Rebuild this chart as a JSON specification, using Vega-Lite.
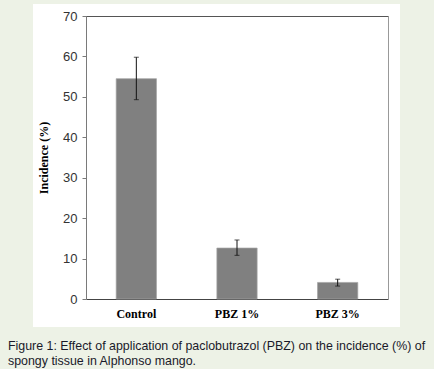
{
  "$schema": "https://vega.github.io/schema/vega-lite/v6.json",
  "width": 367,
  "height": 323,
  "autosize": "none",
  "padding": {"left": 33, "top": 4, "right": 34, "bottom": 42},
  "background": "#edf2e6",
  "title": {
    "text": ["Figure 1: Effect of application of paclobutrazol (PBZ) on the incidence (%) of", "spongy tissue in Alphonso mango."],
    "orient": "bottom",
    "anchor": "start",
    "frame": "group",
    "dx": -25,
    "offset": 13,
    "font": "Liberation Sans",
    "fontSize": 12.4,
    "fontWeight": "normal",
    "color": "#1a1a2a",
    "lineHeight": 14.5
  },
  "data": {
    "values": [
      {"Treatment": "Control", "Mean": 54.5, "Low": 49.3, "High": 59.8},
      {"Treatment": "PBZ 1%", "Mean": 12.6, "Low": 10.8, "High": 14.6},
      {"Treatment": "PBZ 3%", "Mean": 4.1, "Low": 3.2, "High": 4.9}
    ]
  },
  "layer": [
    {
      "mark": {"type": "bar", "color": "#808080", "stroke": "#a3a3a3", "strokeWidth": 0.7},
      "encoding": {
        "x": {
          "field": "Treatment", "type": "nominal", "sort": null,
          "scale": {"range": [53, 355], "paddingInner": 0.6, "paddingOuter": 0.3},
          "axis": {
            "orient": "bottom", "offset": -28, "title": null, "ticks": false, "grid": false,
            "domainColor": "#444444", "domainWidth": 1, "labelAngle": 0,
            "labelFont": "Liberation Serif", "labelFontWeight": "bold", "labelFontSize": 12,
            "labelColor": "#000000", "labelPadding": 9
          }
        },
        "y": {
          "field": "Mean", "type": "quantitative",
          "scale": {"domain": [0, 70], "range": [295, 12], "nice": false},
          "axis": {
            "orient": "left", "offset": -53, "values": [0, 10, 20, 30, 40, 50, 60, 70],
            "grid": false, "domainColor": "#7a7a7a", "tickColor": "#7a7a7a", "tickSize": 4,
            "labelFont": "Liberation Sans", "labelFontSize": 13, "labelColor": "#333333", "labelPadding": 5,
            "title": "Incidence (%)", "titleFont": "Liberation Serif", "titleFontSize": 12,
            "titleFontWeight": "bold", "titleColor": "#000000", "titlePadding": 12
          }
        }
      }
    },
    {
      "mark": {"type": "rule", "color": "#111111", "strokeWidth": 1},
      "encoding": {
        "x": {
          "field": "Treatment", "type": "nominal", "sort": null,
          "axis": {"orient": "top", "offset": -12, "labelExpr": "''", "tickSize": 0, "grid": false, "title": " ", "titleFontSize": 1, "domainColor": "#555555"}
        },
        "y": {
          "field": "Low", "type": "quantitative",
          "axis": {"orient": "right", "offset": -12, "labelExpr": "''", "tickSize": 0, "grid": false, "title": " ", "titleFontSize": 1, "domainColor": "#999999"}
        },
        "y2": {"field": "High"}
      }
    },
    {
      "mark": {"type": "tick", "color": "#111111", "size": 5, "thickness": 1},
      "encoding": {
        "x": {
          "field": "Treatment", "type": "nominal", "sort": null,
          "axis": {"orient": "top", "offset": -12, "labelExpr": "''", "tickSize": 0, "grid": false, "title": " ", "titleFontSize": 1, "domainColor": "#555555"}
        },
        "y": {
          "field": "High", "type": "quantitative",
          "axis": {"orient": "right", "offset": -12, "labelExpr": "''", "tickSize": 0, "grid": false, "title": " ", "titleFontSize": 1, "domainColor": "#999999"}
        }
      }
    },
    {
      "mark": {"type": "tick", "color": "#111111", "size": 5, "thickness": 1},
      "encoding": {
        "x": {
          "field": "Treatment", "type": "nominal", "sort": null,
          "axis": {"orient": "top", "offset": -12, "labelExpr": "''", "tickSize": 0, "grid": false, "title": " ", "titleFontSize": 1, "domainColor": "#555555"}
        },
        "y": {
          "field": "Low", "type": "quantitative",
          "axis": {"orient": "right", "offset": -12, "labelExpr": "''", "tickSize": 0, "grid": false, "title": " ", "titleFontSize": 1, "domainColor": "#999999"}
        }
      }
    }
  ],
  "resolve": {"axis": {"x": "independent", "y": "independent"}},
  "config": {"view": {"fill": "#ffffff", "stroke": null}}
}
